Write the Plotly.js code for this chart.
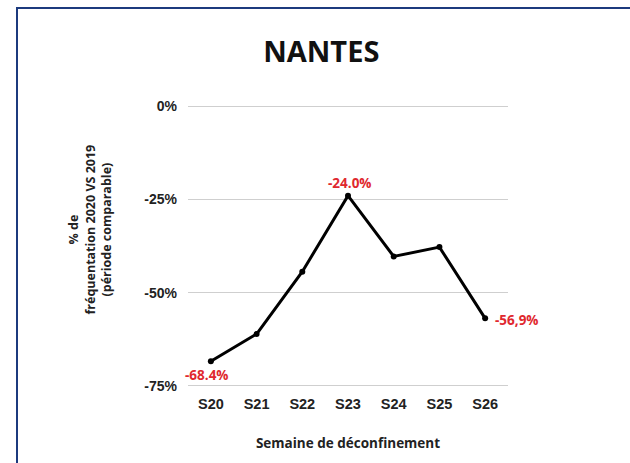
<!DOCTYPE html>
<html>
<head>
<meta charset="utf-8">
<script src="https://cdn.plot.ly/plotly-3.0.1.min.js"></script>
<style>
  html, body { margin: 0; padding: 0; background: #fff; }
  #wrap { position: relative; width: 630px; height: 463px; overflow: hidden; }
  #chart { width: 630px; height: 463px; }
  #frame { position: absolute; left: 16px; top: 7px; width: 620px; height: 470px;
           border-left: 2px solid #1c3a7e; border-top: 2px solid #1c3a7e; pointer-events: none; }
</style>
</head>
<body>
<div id="wrap">
  <div id="chart"></div>
  <div id="frame"></div>
</div>
<script>
const weeks = ['S20', 'S21', 'S22', 'S23', 'S24', 'S25', 'S26'];
const values = [-68.4, -61.1, -44.4, -24.0, -40.3, -37.8, -56.9];
const pointLabels = ['-68.4%', '', '', '-24.0%', '', '', '-56,9%'];
const yTickVals = [0, -25, -50, -75];
const yTickText = ['0%', '-25%', '-50%', '-75%'];

const labelPos = {
  0: {xshift: -4, yshift: -14, xanchor: 'center'},
  3: {xshift: 2, yshift: 13, xanchor: 'center'},
  6: {xshift: 8, yshift: -2, xanchor: 'left'}
};

const annotations = [];
weeks.forEach((w, i) => {
  if (!pointLabels[i]) return;
  const p = labelPos[i];
  annotations.push({
    x: w, y: values[i], xref: 'x', yref: 'y', text: pointLabels[i], showarrow: false,
    xanchor: p.xanchor, yanchor: 'middle', xshift: p.xshift, yshift: p.yshift,
    font: {family: 'Open Sans, sans-serif', size: 13.5, color: '#e0282e', weight: 700}
  });
});
annotations.push({
  xref: 'paper', yref: 'paper', x: -0.305, y: 0.56, xanchor: 'center', yanchor: 'middle',
  textangle: -90, showarrow: false,
  text: '% de<br>fréquentation 2020 VS 2019<br>(période comparable)',
  font: {family: 'Open Sans, sans-serif', size: 12.5, color: '#222', weight: 700}
});

const trace = {
  x: weeks, y: values, type: 'scatter', mode: 'lines+markers',
  line: {color: '#000', width: 3},
  marker: {color: '#000', size: 6},
  hoverinfo: 'skip'
};

const layout = {
  width: 630, height: 463,
  margin: {l: 188, r: 122, t: 105, b: 76},
  paper_bgcolor: '#fff', plot_bgcolor: '#fff',
  showlegend: false,
  title: {text: 'NANTES', x: 0.51, xanchor: 'center', y: 0.888, yanchor: 'middle',
          font: {family: 'Open Sans, sans-serif', size: 29, color: '#111', weight: 700}},
  xaxis: {
    type: 'category', range: [-0.5, 6.5], showgrid: false, zeroline: false, showline: false,
    ticks: '', ticklabelstandoff: 6,
    tickfont: {family: 'Liberation Sans, Arial, sans-serif', size: 14.5, color: '#222', weight: 700},
    title: {text: 'Semaine de déconfinement', standoff: 28,
            font: {family: 'Open Sans, sans-serif', size: 13.5, color: '#222', weight: 700}}
  },
  yaxis: {
    range: [-75.3, 0.3], tickvals: yTickVals, ticktext: yTickText,
    showgrid: true, gridcolor: '#cfcfcf', gridwidth: 1, zeroline: false, showline: false,
    ticks: '', ticklabelstandoff: 10,
    tickfont: {family: 'Liberation Sans, Arial, sans-serif', size: 14, color: '#222', weight: 700}
  },
  annotations: annotations
};

Plotly.newPlot('chart', [trace], layout, {displayModeBar: false, staticPlot: true});
</script>
</body>
</html>
